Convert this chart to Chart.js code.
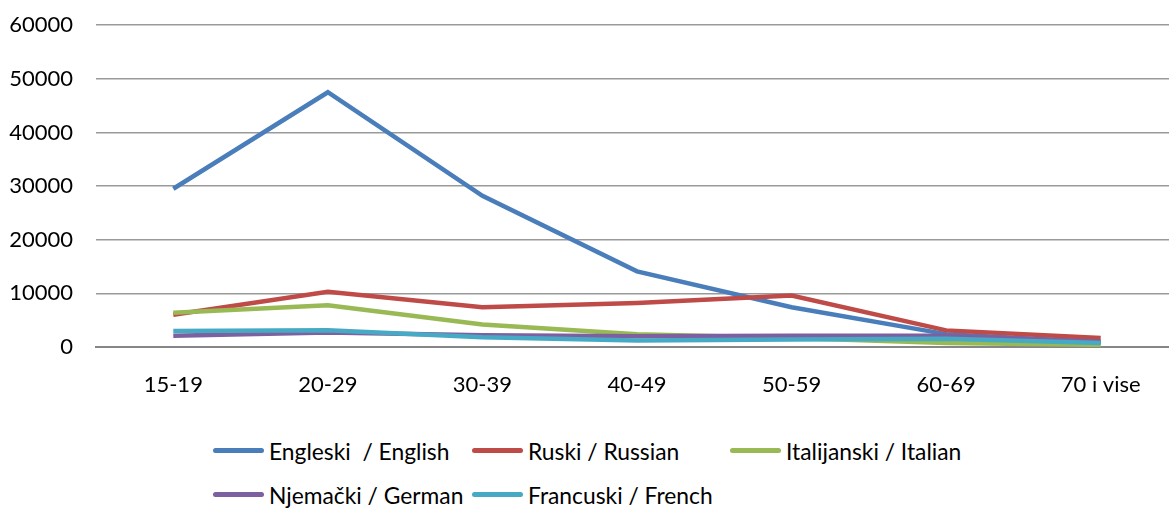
<!DOCTYPE html>
<html>
<head>
<meta charset="utf-8">
<script src="https://cdn.jsdelivr.net/npm/chart.js@4"></script>
<style>
  html, body { margin: 0; padding: 0; background: #fff; overflow: hidden; }
  #wrap { position: relative; width: 1178px; height: 508px; }
  #chartBox { position: absolute; left: 0; top: -11px; width: 1178px; height: 431px; }
  #legend {
    position: absolute; left: 213px; top: 434px;
    display: grid; grid-template-columns: 259px 258px auto;
    row-gap: 11px;
    font-family: Lato, "Open Sans", sans-serif; font-size: 22.8px; color: #000;
  }
  .item { display: flex; align-items: center; height: 33px; white-space: pre; }
  .swatch { width: 51px; height: 5px; border-radius: 3px; margin-right: 5px; }
</style>
</head>
<body>
<div id="wrap">
  <div id="chartBox"><canvas id="c"></canvas></div>
  <div id="legend"></div>
</div>
<script>
// Age groups
const categories = ['15-19', '20-29', '30-39', '40-49', '50-59', '60-69', '70 i vise'];

// Number of speakers per foreign language and age group
const english = [29500, 47500, 28200, 14100, 7400, 2400, 900];
const russian = [6000, 10300, 7400, 8200, 9600, 3100, 1700];
const italian = [6400, 7800, 4200, 2400, 1700, 750, 400];
const german  = [2100, 2700, 2200, 2000, 2100, 2100, 1000];
const french  = [3000, 3100, 1800, 1200, 1400, 1550, 750];

const yTicks = [0, 10000, 20000, 30000, 40000, 50000, 60000];

const seriesNames = ['Engleski  / English', 'Ruski / Russian', 'Italijanski / Italian', 'Njemački / German', 'Francuski / French'];
const seriesColors = ['#4A7EBB', '#BE4B48', '#98B954', '#7D60A0', '#46AAC5'];
const seriesData = [english, russian, italian, german, french];

const FONT = 'Lato, "Open Sans", sans-serif';

const datasets = seriesData.map((d, i) => ({
  label: seriesNames[i],
  data: d,
  borderColor: seriesColors[i],
  backgroundColor: seriesColors[i],
  borderWidth: 4.5,
  pointRadius: 0,
  tension: 0,
  fill: false,
  order: seriesData.length - i
}));

const chart = new Chart(document.getElementById('c'), {
  type: 'line',
  data: { labels: categories, datasets },
  options: {
    responsive: true,
    maintainAspectRatio: false,
    animation: false,
    layout: { padding: { top: 14, right: 0, bottom: 0, left: 0 } },
    plugins: { legend: { display: false }, tooltip: { enabled: false } },
    scales: {
      x: {
        offset: true,
        grid: { display: false, drawTicks: false },
        border: { display: true, color: '#868686', width: 2 },
        ticks: { color: '#000', padding: 25, font: { family: FONT, size: 22 } },
        afterFit: s => { s.height = 73; }
      },
      y: {
        min: 0, max: 60000,
        afterBuildTicks: s => { s.ticks = yTicks.map(v => ({ value: v })); },
        grid: { color: '#9a9a9a', lineWidth: 1.5, drawTicks: false },
        border: { display: false },
        ticks: {
          color: '#000', padding: 23, font: { family: FONT, size: 22 },
          callback: v => String(v)
        },
        afterFit: s => { s.width = 96; }
      }
    }
  }
});

// Legend laid out in columns under the chart
const legendEl = document.getElementById('legend');
chart.data.datasets.forEach(ds => {
  const item = document.createElement('div');
  item.className = 'item';
  const sw = document.createElement('span');
  sw.className = 'swatch';
  sw.style.background = ds.borderColor;
  const tx = document.createElement('span');
  tx.textContent = ds.label;
  item.appendChild(sw);
  item.appendChild(tx);
  legendEl.appendChild(item);
});
</script>
</body>
</html>
